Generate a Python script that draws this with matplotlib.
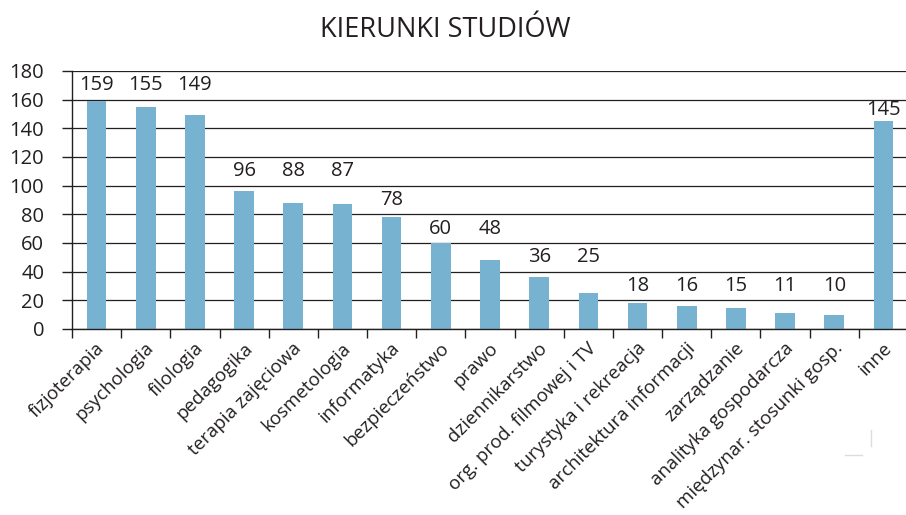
import numpy as np
import matplotlib
matplotlib.use("Agg")
import matplotlib.pyplot as plt
from matplotlib.lines import Line2D
import matplotlib.transforms as mtransforms

categories = ["fizjoterapia", "psychologia", "filologia", "pedagogika",
              "terapia zajęciowa", "kosmetologia", "informatyka",
              "bezpieczeństwo", "prawo", "dziennikarstwo",
              "org. prod. filmowej i TV", "turystyka i rekreacja",
              "architektura informacji", "zarządzanie",
              "analityka gospodarcza", "międzynar. stosunki gosp.", "inne"]
values = [159, 155, 149, 96, 88, 87, 78, 60, 48, 36, 25, 18, 16, 15, 11, 10, 145]
yticks = [0, 20, 40, 60, 80, 100, 120, 140, 160, 180]
title = "KIERUNKI STUDIÓW"

plt.rcParams['font.family'] = ['Open Sans', 'DejaVu Sans']
TXT = '#231f20'
BAR = '#77b3d0'

fig = plt.figure(figsize=(9.06, 5.15), dpi=100)
W, H = 906, 515
left_px, right_px, top_px, bot_px = 72, 908, 71, 329
ax = fig.add_axes([left_px / W, 1 - bot_px / H, (right_px - left_px) / W, (bot_px - top_px) / H])

x = np.arange(len(categories))
ax.bar(x, values, width=0.4, color=BAR, zorder=3)
ax.set_xlim(-0.5, len(categories) - 0.5)
ax.set_ylim(0, 180)
ax.set_yticks(yticks)
ax.set_yticklabels([str(t) for t in yticks], fontsize=14.5, color=TXT)
ax.yaxis.grid(True, color=TXT, linewidth=0.9, zorder=0)
ax.set_axisbelow(True)
for s in ['top', 'right']:
    ax.spines[s].set_visible(False)
for s in ['left', 'bottom']:
    ax.spines[s].set_color(TXT)
    ax.spines[s].set_linewidth(1.0)
    ax.spines[s].set_zorder(4)
ax.tick_params(axis='y', length=7, width=1.0, color=TXT, pad=13)

# ticks at category boundaries
ax.set_xticks(np.arange(len(categories) + 1) - 0.5)
ax.set_xticklabels([])
ax.tick_params(axis='x', length=6.5, width=1.0, color=TXT)

offset = mtransforms.ScaledTranslation(-1 / 100, -10 / 100, fig.dpi_scale_trans)
for xi, lab in zip(x, categories):
    ax.text(xi, 0, lab, rotation=45, rotation_mode='anchor', ha='right', va='top',
            fontsize=13.5, color=TXT, transform=ax.get_xaxis_transform() + offset)

# value labels placed in the gridline band above each bar
label_y = [np.ceil(v / 20) * 20 + 10 for v in values]
label_y[-1] = values[-1] + 8
for xi, v, ly in zip(x, values, label_y):
    ax.text(xi, ly, str(v), ha='center', va='center', fontsize=14.5, color=TXT, zorder=5)

fig.text(445 / W, 1 - 30 / H, title, ha='center', va='center', fontsize=19.5, color=TXT)

# faint crop marks
fig.add_artist(Line2D([871 / W, 871 / W], [1 - 430 / H, 1 - 446 / H], color='#dddddd', lw=1))
fig.add_artist(Line2D([845 / W, 862 / W], [1 - 455 / H, 1 - 455 / H], color='#dddddd', lw=1))

fig.savefig('out.png', dpi=100)
